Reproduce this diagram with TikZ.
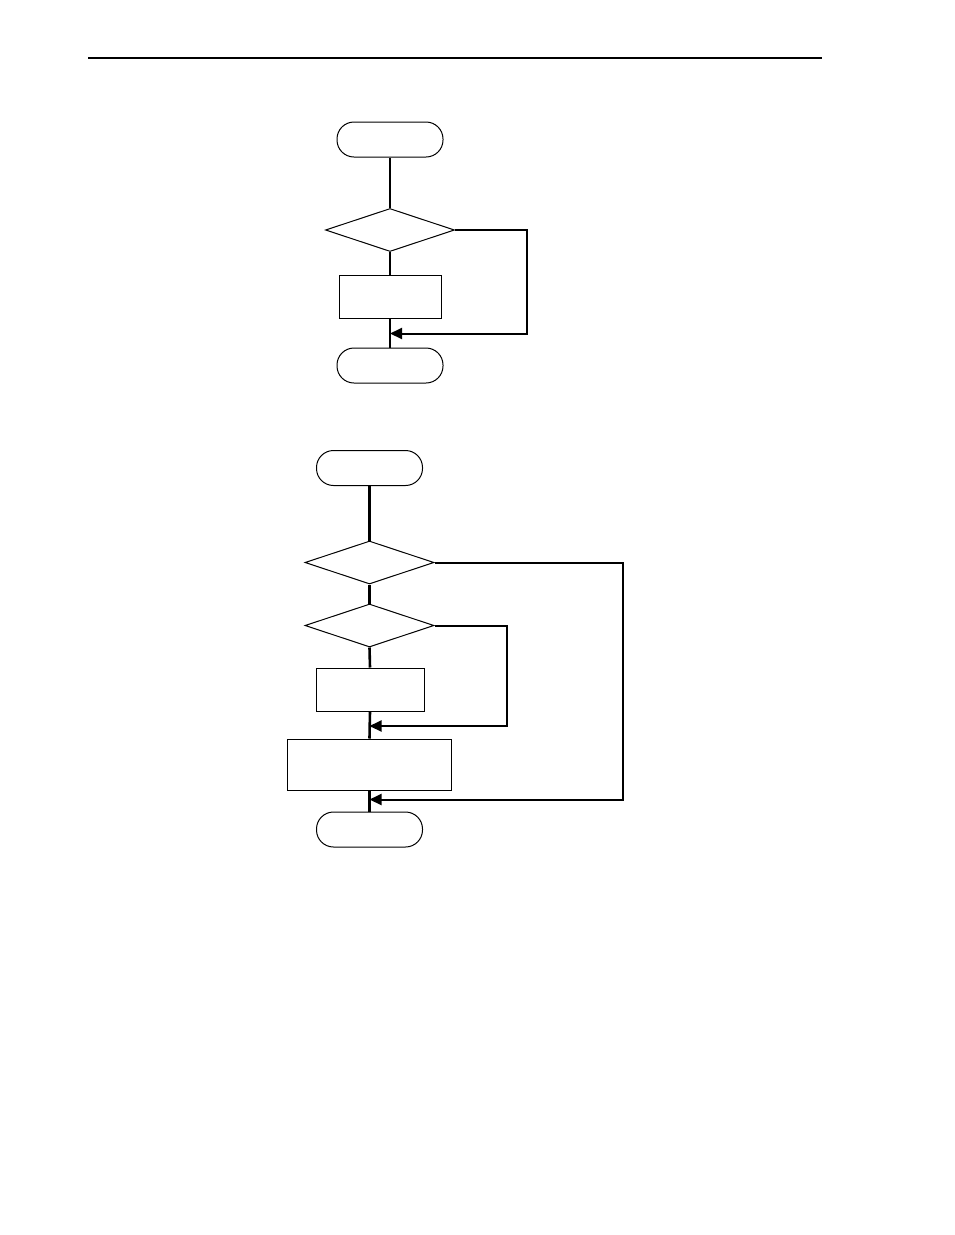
\documentclass[tikz,border=0pt]{standalone}
\usetikzlibrary{shapes.geometric,arrows.meta}
\begin{document}
\begin{tikzpicture}[x=1pt,y=-1pt,
  terminal/.style={draw,line width=1pt,rectangle,rounded corners=17pt,minimum width=106pt,minimum height=35pt,inner sep=0pt},
  decision/.style={draw,line width=1pt,diamond,minimum width=129pt,minimum height=43pt,inner sep=0pt},
  process/.style={draw,line width=1pt,rectangle,inner sep=0pt},
  flow/.style={line width=2pt},
  mainflow/.style={line width=2.6pt},
  back/.style={line width=2pt,-{Triangle[length=12pt,width=11pt]}}]
\useasboundingbox (0,0) rectangle (954,1235);
\draw[line width=1.4pt] (88,58) -- (822,58);
% diagram 1
\node[terminal] (s1) at (390,139.5) {};
\node[decision] (d1) at (390,230) {};
\node[process,minimum width=102pt,minimum height=43pt] (p1) at (390,297) {};
\node[terminal] (e1) at (390,365.5) {};
\coordinate (r1) at (526.5,230);
\coordinate (j1) at (390,333.5);
\draw[flow] (s1.south) -- (d1.north);
\draw[flow] (d1.south) -- (p1.north);
\draw[flow] (p1.south) -- (e1.north);
\draw[back] (d1.east) -- (r1) |- (j1);
% diagram 2
\node[terminal] (s2) at (369.5,468) {};
\node[decision] (d2) at (369.5,562.5) {};
\node[decision] (d3) at (369.5,625.5) {};
\node[process,minimum width=108pt,minimum height=43pt] (p2) at (370,689.5) {};
\node[process,minimum width=164pt,minimum height=51pt] (p3) at (369.5,764.5) {};
\node[terminal] (e2) at (369.5,829.5) {};
\coordinate (r2) at (506.5,625.5);
\coordinate (j2) at (369.5,726);
\coordinate (r3) at (622.5,562.5);
\coordinate (j3) at (369.5,799.5);
\draw[mainflow] (s2.south) -- (d2.north);
\draw[mainflow] (d2.south) -- (d3.north);
\draw[mainflow] (d3.south) -- (p2.north);
\draw[mainflow] (p2.south) -- (p3.north);
\draw[mainflow] (p3.south) -- (e2.north);
\draw[back] (d3.east) -- (r2) |- (j2);
\draw[back] (d2.east) -- (r3) |- (j3);
\end{tikzpicture}
\end{document}
